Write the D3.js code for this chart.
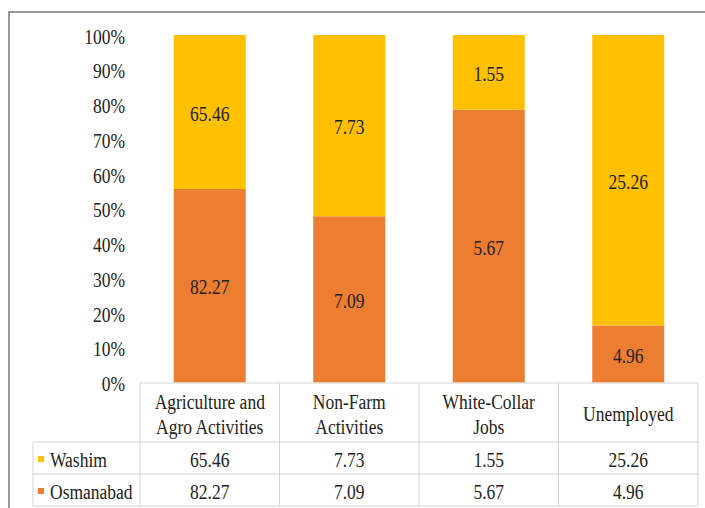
<!DOCTYPE html>
<html>
<head>
<meta charset="utf-8">
<script src="https://cdn.jsdelivr.net/npm/d3@7"></script>
<style>
  html, body { margin: 0; padding: 0; background: #fff; }
  svg { display: block; }
</style>
</head>
<body>
<svg id="chart" width="705" height="508"></svg>
<script>
const categories = [["Agriculture and", "Agro Activities"], ["Non-Farm", "Activities"], ["White-Collar", "Jobs"], ["Unemployed"]];
const categoryKeys = ["Agriculture and Agro Activities", "Non-Farm Activities", "White-Collar Jobs", "Unemployed"];
const seriesNames = ["Washim", "Osmanabad"];
const washim = [65.46, 7.73, 1.55, 25.26];
const osmanabad = [82.27, 7.09, 5.67, 4.96];
const yTicks = [0, 0.1, 0.2, 0.3, 0.4, 0.5, 0.6, 0.7, 0.8, 0.9, 1.0];
const colors = { Washim: "#FFC000", Osmanabad: "#ED7D31" };

(function () {
const svg = d3.select("#chart");
const FS = 17.5, SY = 1.25;

function label(g, x, y, str, anchor) {
  g.append("text")
    .attr("transform", `translate(${x},${y}) scale(1,${SY})`)
    .attr("text-anchor", anchor || "middle")
    .attr("dominant-baseline", "central")
    .attr("font-family", "Liberation Serif")
    .attr("font-size", FS)
    .attr("fill", "#222")
    .text(str);
}

// outer frame
svg.append("path")
  .attr("d", "M9,520 V12 H720")
  .attr("fill", "none").attr("stroke", "#999").attr("stroke-width", 2);

const pLeft = 140, pRight = 698, pTop = 35, pBottom = 382.5;
const x = d3.scaleBand().domain(categoryKeys).range([pLeft, pRight]).paddingInner(0.484).paddingOuter(0.242);
const y = d3.scaleLinear().domain([0, 1]).range([pBottom, pTop]);

const data = categoryKeys.map((k, i) => ({ key: k, Osmanabad: osmanabad[i], Washim: washim[i] }));
const stack = d3.stack().keys(["Osmanabad", "Washim"]).offset(d3.stackOffsetExpand);
const layers = stack(data);

const g = svg.append("g");
layers.forEach(layer => {
  g.selectAll(null).data(layer).enter().append("rect")
    .attr("x", d => x(d.data.key))
    .attr("width", x.bandwidth())
    .attr("y", d => y(d[1]))
    .attr("height", d => y(d[0]) - y(d[1]))
    .attr("fill", colors[layer.key]);
  layer.forEach(d => {
    label(g, x(d.data.key) + x.bandwidth() / 2, (y(d[0]) + y(d[1])) / 2 + 1, d3.format(".2f")(d.data[layer.key]));
  });
});

// y axis labels
const axisG = svg.append("g");
yTicks.forEach(t => label(axisG, 125, y(t) + 1, d3.format(".0%")(t), "end"));

// data table
const grid = "#d4d4d4";
const tg = svg.append("g");
const rowH = [383, 442, 474, 506];
const colEdges = [pLeft].concat(categoryKeys.map(k => x(k) + x.bandwidth() / 2 + x.step() / 2));
const legendLeft = 33;

tg.append("line").attr("x1", pLeft).attr("x2", pRight).attr("y1", rowH[0]).attr("y2", rowH[0]).attr("stroke", grid);
[rowH[1], rowH[2], rowH[3]].forEach(yy =>
  tg.append("line").attr("x1", legendLeft).attr("x2", pRight).attr("y1", yy).attr("y2", yy).attr("stroke", grid));
colEdges.forEach(xx =>
  tg.append("line").attr("x1", xx).attr("x2", xx).attr("y1", rowH[0]).attr("y2", rowH[3]).attr("stroke", grid));
tg.append("line").attr("x1", legendLeft).attr("x2", legendLeft).attr("y1", rowH[1]).attr("y2", rowH[3]).attr("stroke", grid);

// header
categories.forEach((lines, i) => {
  const cx = x(categoryKeys[i]) + x.bandwidth() / 2;
  const cy = (rowH[0] + rowH[1]) / 2 + 1;
  const lh = 25;
  lines.forEach((ln, j) => label(tg, cx, cy + (j - (lines.length - 1) / 2) * lh, ln));
});

// rows
const rows = [["Washim", washim], ["Osmanabad", osmanabad]];
rows.forEach(([name, vals], r) => {
  const cy = (rowH[r + 1] + rowH[r + 2]) / 2 + 1;
  tg.append("rect").attr("x", 38).attr("y", cy - 3).attr("width", 6).attr("height", 6).attr("fill", colors[name]);
  label(tg, 50, cy, name, "start");
  vals.forEach((v, i) => label(tg, x(categoryKeys[i]) + x.bandwidth() / 2, cy, d3.format(".2f")(v)));
});
})();
</script>
</body>
</html>
